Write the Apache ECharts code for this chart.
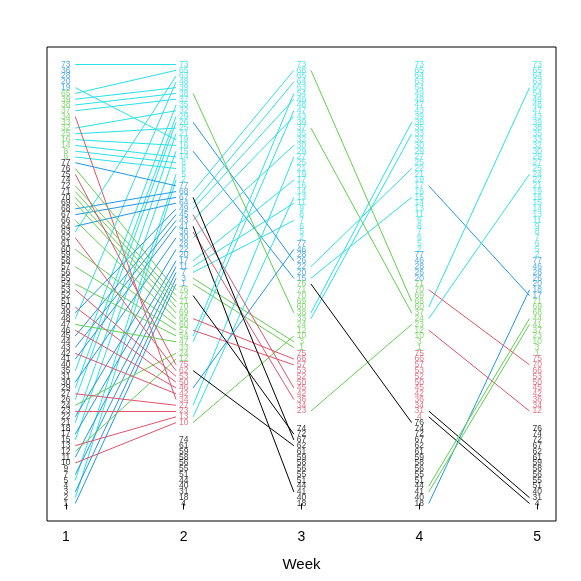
<!DOCTYPE html>
<html>
<head>
<meta charset="utf-8">
<script src="https://cdn.jsdelivr.net/npm/echarts@6/dist/echarts.min.js"></script>
<style>
  html, body { margin: 0; padding: 0; background: #fff; }
  #main { width: 581px; height: 581px; }
</style>
</head>
<body>
<div id="main"></div>
<script>
  // state of each subject (id = index + 1) at each week
  // 0 missing, 1 black, 2 red, 3 green, 4 blue, 5 cyan
  var week1 = [
    1, 1, 1, 1, 1, 3, 1, 3, 1, 1,
    1, 1, 1, 3, 1, 3, 1, 1, 4, 4,
    1, 1, 1, 1, 3, 1, 1, 4, 1, 1,
    1, 3, 3, 3, 1, 4, 3, 3, 3, 1,
    1, 1, 1, 1, 1, 1, 1, 1, 1, 1,
    1, 1, 1, 1, 1, 1, 1, 1, 1, 1,
    1, 1, 1, 1, 3, 1, 1, 1, 1, 1,
    1, 1, 4, 1, 1, 1, 1
  ];
  var week2 = [
    4, 5, 4, 1, 5, 5, 4, 5, 0, 2,
    4, 3, 2, 5, 5, 5, 4, 1, 5, 4,
    5, 4, 2, 3, 5, 5, 2, 4, 5, 4,
    1, 5, 3, 2, 5, 4, 5, 5, 5, 1,
    4, 2, 4, 1, 4, 2, 3, 5, 4, 2,
    1, 0, 2, 3, 1, 1, 3, 1, 1, 3,
    1, 2, 5, 4, 5, 3, 4, 4, 3, 3,
    3, 3, 5, 1, 2, 3, 4
  ];
  var week3 = [
    3, 5, 3, 0, 5, 5, 5, 5, 5, 3,
    5, 3, 5, 5, 4, 5, 5, 1, 5, 4,
    5, 4, 2, 3, 5, 4, 5, 4, 5, 5,
    0, 5, 3, 2, 5, 2, 5, 3, 5, 1,
    1, 2, 5, 1, 2, 4, 5, 5, 5, 2,
    1, 2, 2, 5, 1, 1, 2, 1, 1, 3,
    1, 1, 5, 5, 5, 2, 1, 5, 3, 3,
    3, 1, 5, 1, 2, 3, 4
  ];
  var week4 = [
    3, 5, 3, 2, 5, 5, 5, 5, 5, 3,
    5, 3, 5, 5, 5, 5, 5, 1, 5, 4,
    5, 5, 3, 3, 5, 4, 5, 4, 5, 5,
    2, 5, 5, 2, 5, 2, 3, 5, 5, 1,
    1, 2, 5, 1, 2, 4, 5, 5, 5, 2,
    1, 2, 2, 5, 1, 1, 2, 1, 1, 3,
    1, 1, 5, 5, 5, 2, 1, 3, 3, 3,
    3, 1, 5, 1, 2, 1, 4
  ];
  var week5 = [
    3, 5, 3, 1, 5, 5, 5, 5, 5, 3,
    5, 2, 5, 5, 5, 5, 4, 4, 5, 4,
    5, 5, 3, 5, 5, 4, 5, 4, 5, 5,
    1, 5, 5, 2, 5, 2, 3, 5, 5, 1,
    3, 2, 5, 3, 2, 4, 5, 5, 5, 2,
    1, 0, 2, 5, 1, 1, 0, 1, 1, 5,
    1, 1, 5, 5, 5, 2, 1, 3, 3, 2,
    3, 1, 5, 1, 2, 1, 4
  ];

  var weeks = [1, 2, 3, 4, 5];
  var weekStates = [week1, week2, week3, week4, week5];
  var stateOrder = [5, 4, 3, 2, 0, 1]; // top to bottom
  var stateColors = ['#ffffff', '#000000', '#DF536B', '#61D04F', '#2297E6', '#28E2E5'];

  var nSubj = week1.length;

  // slot of every subject in each week: grouped by state, id descending
  function slots(states) {
    var ids = [];
    for (var i = 0; i < nSubj; i++) ids.push(i + 1);
    ids.sort(function (a, b) {
      var oa = stateOrder.indexOf(states[a - 1]), ob = stateOrder.indexOf(states[b - 1]);
      if (oa !== ob) return oa - ob;
      return b - a;
    });
    var y = {};
    ids.forEach(function (id, k) { y[id] = nSubj - 1 - k; });
    return y;
  }
  var ypos = weekStates.map(slots);

  var labelData = [];
  weeks.forEach(function (w, wi) {
    for (var id = 1; id <= nSubj; id++) {
      var s = weekStates[wi][id - 1];
      if (s === 0) continue;
      labelData.push({
        name: String(id),
        value: [w, ypos[wi][id]],
        label: { color: stateColors[s] }
      });
    }
  });

  var lineData = [];
  for (var wi = 0; wi < weeks.length - 1; wi++) {
    for (var id = 1; id <= nSubj; id++) {
      var s1 = weekStates[wi][id - 1], s2 = weekStates[wi + 1][id - 1];
      if (s1 === s2 || s1 === 0 || s2 === 0) continue;
      lineData.push({
        coords: [[weeks[wi] + 0.08, ypos[wi][id]], [weeks[wi + 1] - 0.065, ypos[wi + 1][id]]],
        lineStyle: { color: stateColors[s2] }
      });
    }
  }

  var myChart = echarts.init(document.getElementById('main'));
  myChart.setOption({
    animation: false,
    backgroundColor: '#ffffff',
    grid: {
      left: 47, right: 25, top: 47, bottom: 60,
      show: true, borderColor: '#000', borderWidth: 1
    },
    xAxis: {
      type: 'value',
      min: 0.84,
      max: 5.16,
      name: 'Week',
      nameLocation: 'middle',
      nameGap: 36,
      nameTextStyle: { fontSize: 15, color: '#000', fontFamily: 'Liberation Sans' },
      axisLine: { show: false },
      splitLine: { show: false },
      axisTick: { show: true, length: 6, customValues: weeks, lineStyle: { color: '#000' } },
      axisLabel: {
        customValues: weeks, fontSize: 14, color: '#000', margin: 9,
        fontFamily: 'Liberation Sans'
      }
    },
    yAxis: {
      type: 'value',
      min: -3.04,
      max: nSubj - 1 + 3.04,
      show: false
    },
    series: [{
      type: 'lines',
      coordinateSystem: 'cartesian2d',
      silent: true,
      lineStyle: { width: 1, opacity: 1 },
      data: lineData
    }, {
      type: 'scatter',
      symbolSize: 0,
      silent: true,
      label: {
        show: true,
        position: 'inside',
        fontSize: 8.5,
        fontFamily: 'Liberation Sans',
        formatter: function (p) { return p.name; }
      },
      labelLayout: { hideOverlap: false },
      data: labelData
    }]
  });
</script>
</body>
</html>
